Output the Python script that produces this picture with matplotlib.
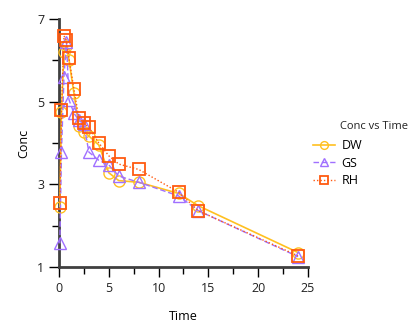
import matplotlib
matplotlib.use("Agg")
import matplotlib.pyplot as plt
from matplotlib.ticker import MultipleLocator

time = [0.083, 0.25, 0.5, 0.75, 1, 1.5, 2, 2.5, 3, 4, 5, 6, 8, 12, 14, 24]
dw = [2.46, 4.75, 6.20, 6.35, 6.02, 5.20, 4.40, 4.27, 4.17, 3.95, 3.28, 3.09, 3.05, 2.78, 2.48, 1.35]
gs = [1.57, 3.79, 5.60, 6.45, 5.05, 4.72, 4.55, 4.45, 3.78, 3.58, 3.47, 3.20, 3.05, 2.72, 2.36, 1.25]
rh = [2.56, 4.80, 6.59, 6.48, 6.05, 5.30, 4.60, 4.48, 4.38, 4.00, 3.69, 3.49, 3.36, 2.81, 2.36, 1.27]

x_ticks = [0, 5, 10, 15, 20, 25]
y_ticks = [1, 3, 5, 7]

plt.rcParams['font.family'] = ['Open Sans', 'DejaVu Sans']

fig = plt.figure(figsize=(4.14, 3.30), dpi=100)
ax = fig.add_axes([59/414, 1-267/330, (308-59)/414, (267-19)/330])

ax.plot(time, dw, color='#FFC020', lw=1.2, ls='-', marker='o', ms=8,
        mfc='none', mec='#FFC020', mew=1.0, label='DW', clip_on=False, zorder=3)
ax.plot(time, gs, color='#A070FF', lw=1.0, ls=(0, (4, 2)), marker='^', ms=8,
        mfc='none', mec='#A070FF', mew=1.0, label='GS', clip_on=False, zorder=4)
ax.plot(time, rh, color='#FF5A10', lw=1.0, ls=(0, (1, 1.5)), marker='s', ms=8.5,
        mfc='none', mec='#FF5A10', mew=1.3, label='RH', clip_on=False, zorder=5)

ax.set_xlim(0, 25)
ax.set_ylim(1, 7)
ax.set_xticks(x_ticks)
ax.set_yticks(y_ticks)
ax.xaxis.set_minor_locator(MultipleLocator(2.5))
ax.yaxis.set_minor_locator(MultipleLocator(1))

for s in ['top', 'right']:
    ax.spines[s].set_visible(False)
for s in ['left', 'bottom']:
    ax.spines[s].set_color('#404040')
    ax.spines[s].set_linewidth(2.0)

ax.tick_params(which='major', length=7, width=1, color='black', labelsize=9, labelcolor='#222222')
ax.tick_params(which='minor', length=5, width=1, color='black')

ax.set_xlabel('Time', fontsize=9, labelpad=11)
ax.set_ylabel('Conc', fontsize=9, labelpad=5)

leg = ax.legend(loc='upper left', bbox_to_anchor=(313/414, 1-139/330), bbox_transform=fig.transFigure,
                frameon=False, fontsize=9,
                handlelength=1.8, handletextpad=0.5, labelspacing=0.38, borderpad=0, borderaxespad=0,
                markerscale=0.7)
fig.text(340/414, 1-127/330, 'Conc vs Time', fontsize=8, va='center', ha='left', color='#222222')

fig.savefig('out.png', dpi=100)
